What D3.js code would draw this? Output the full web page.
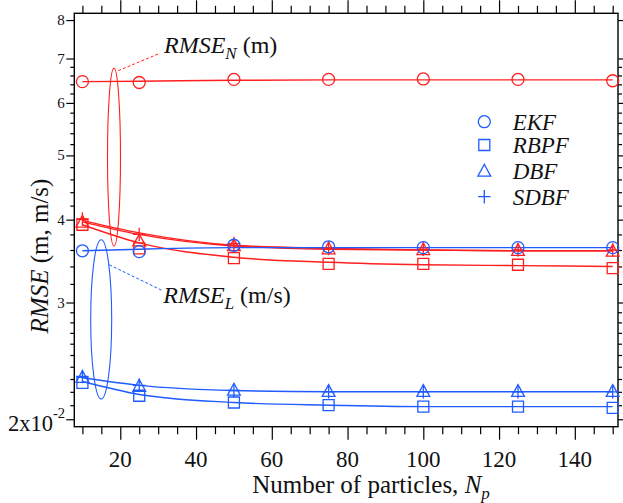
<!DOCTYPE html>
<html>
<head>
<meta charset="utf-8">
<script src="https://cdn.jsdelivr.net/npm/d3@7"></script>
<style>
  html, body { margin: 0; padding: 0; background: #fff; }
  svg { display: block; }
</style>
</head>
<body>
<svg id="chart" width="623" height="503"></svg>
<script>
// ---------- data ----------
const particles = [10, 25, 50, 75, 100, 125, 150];

// RMSE_N (m) — red markers
const ekfN  = [6.46, 6.44, 6.51, 6.51, 6.52, 6.51, 6.48];
const rbpfN = [3.93, 3.62, 3.50, 3.43, 3.43, 3.42, 3.38];
const dbfN  = [3.96, 3.71, 3.65, 3.61, 3.60, 3.59, 3.58];
const sdbfN = [4.01, 3.80, 3.68, 3.62, 3.61, 3.60, 3.60];
// RMSE_N fitted curves
const ekfNFit  = [6.46, 6.47, 6.49, 6.50, 6.50, 6.50, 6.50];
const rbpfNFit = [3.93, 3.69, 3.51, 3.45, 3.42, 3.41, 3.40];
const dbfNFit  = [3.97, 3.80, 3.65, 3.61, 3.60, 3.59, 3.59];
const sdbfNFit = [3.99, 3.82, 3.66, 3.62, 3.60, 3.59, 3.59];

// RMSE_L (m/s) — blue markers
const ekfL  = [3.59, 3.58, 3.66, 3.64, 3.63, 3.63, 3.63];
const rbpfL = [2.27, 2.17, 2.12, 2.10, 2.09, 2.09, 2.08];
const dbfL  = [2.31, 2.24, 2.21, 2.20, 2.20, 2.20, 2.20];
const sdbfL = [2.32, 2.25, 2.21, 2.20, 2.20, 2.20, 2.20];
// RMSE_L fitted curves
const ekfLFit  = [3.59, 3.61, 3.63, 3.63, 3.63, 3.63, 3.63];
const rbpfLFit = [2.28, 2.18, 2.12, 2.10, 2.09, 2.09, 2.09];
const dbfLFit  = [2.31, 2.25, 2.21, 2.20, 2.20, 2.20, 2.20];

// ticks
const xMajorTicks = [20, 40, 60, 80, 100, 120, 140];
const xMinorTicks = d3.range(10, 151, 5).filter(v => v % 20 !== 0);
const yMajorTicks = [2, 3, 4, 5, 6, 7, 8];
const yTickLabels = ["2", "3", "4", "5", "6", "7", "8"];
const yMinorTicks = [2.1, 2.2, 2.3, 2.4, 2.5, 2.6, 2.7, 2.8, 2.9,
                     3.2, 3.4, 3.6, 3.8, 4.2, 4.4, 4.6, 4.8, 5.2, 5.4, 5.6, 5.8,
                     6.2, 6.4, 6.6, 6.8];
const legendNames = ["EKF", "RBPF", "DBF", "SDBF"];

// ---------- setup ----------
const RED = "#ff1f1f", BLUE = "#1f5bff";
const FONT = "Liberation Serif";
const svg = d3.select("#chart");
const L = 74.3, R = 618, T = 13.3, B = 426.7;
const x = d3.scaleLinear().domain([7.86, 151.4]).range([L, R]);
const y = d3.scaleLog().domain([1.949, 8.19]).range([B, T]);

// ---------- axes ----------
function addAxis(axisFn, scale, ticks, size, transform) {
  const g = svg.append("g").attr("transform", transform)
    .call(axisFn(scale).tickValues(ticks).tickSize(size).tickFormat(""));
  g.select(".domain").remove();
  g.selectAll("line").attr("stroke", "#000").attr("stroke-width", 1.2);
  return g;
}
addAxis(d3.axisBottom, x, xMajorTicks, 13, `translate(0,${B})`);
addAxis(d3.axisBottom, x, xMinorTicks, 7.5, `translate(0,${B})`);
addAxis(d3.axisTop, x, xMajorTicks, 13, `translate(0,${T})`);
addAxis(d3.axisTop, x, xMinorTicks, 7.5, `translate(0,${T})`);
addAxis(d3.axisLeft, y, yMajorTicks, 8, `translate(${L},0)`);
addAxis(d3.axisLeft, y, yMinorTicks, 4, `translate(${L},0)`);
addAxis(d3.axisRight, y, yMajorTicks, 8, `translate(${R},0)`);
addAxis(d3.axisRight, y, yMinorTicks, 4, `translate(${R},0)`);

svg.append("rect").attr("x", L).attr("y", T).attr("width", R - L).attr("height", B - T)
  .attr("fill", "none").attr("stroke", "#000").attr("stroke-width", 1.4);

// x tick labels
svg.append("g").selectAll("text").data(xMajorTicks).join("text")
  .attr("x", d => x(d)).attr("y", 467).attr("text-anchor", "middle")
  .attr("font-family", FONT)
  .attr("font-size", 23).attr("fill", "#111").text(d => d);

// y tick labels
svg.append("g").selectAll("text").data(yMajorTicks.slice(1)).join("text")
  .attr("x", L - 9.5).attr("y", d => y(d) + 5).attr("text-anchor", "end")
  .attr("font-family", FONT)
  .attr("font-size", 15).attr("fill", "#111").text((d, i) => yTickLabels[i + 1]);
const lab2 = svg.append("text").attr("x", 8).attr("y", y(2) + 12)
  .attr("font-family", FONT).attr("font-size", 22.5).attr("fill", "#111");
lab2.append("tspan").text(yTickLabels[0] + "x10");
lab2.append("tspan").attr("dy", -13).attr("font-size", 14.5).text("-2");

// axis titles
const xt = svg.append("text").attr("x", 371).attr("y", 493).attr("text-anchor", "middle")
  .attr("font-family", FONT).attr("font-size", 25).attr("fill", "#111");
xt.append("tspan").text("Number of particles, ");
xt.append("tspan").attr("font-style", "italic").text("N");
xt.append("tspan").attr("font-style", "italic").attr("font-size", 17).attr("dy", 6).text("p");

const yt = svg.append("text").attr("transform", "translate(48,256) rotate(-90)")
  .attr("font-family", FONT)
  .attr("text-anchor", "middle").attr("font-size", 25).attr("fill", "#111");
yt.append("tspan").attr("font-style", "italic").text("RMSE");
yt.append("tspan").text(" (m, m/s)");

// ---------- series ----------
const line = d3.line().x((d, i) => x(particles[i])).y(d => y(d)).curve(d3.curveMonotoneX);
function drawLine(vals, color) {
  svg.append("path").datum(vals).attr("d", line).attr("fill", "none")
    .attr("stroke", color).attr("stroke-width", 1.4);
}
function symbolPath(type) {
  if (type === "circle") return d3.symbol(d3.symbolCircle, 113)();
  if (type === "square") return d3.symbol(d3.symbolSquare, 121)();
  if (type === "triangle") return "M0,-7.2L6.4,4.6L-6.4,4.6Z";
  return "M-6.2,0H6.2M0,-6.8V6.8";
}
function drawMarkers(vals, type, color) {
  svg.append("g").selectAll("path").data(vals).join("path")
    .attr("transform", (d, i) => `translate(${x(particles[i])},${y(d)})`)
    .attr("d", symbolPath(type))
    .attr("fill", "none")
    .attr("stroke", color).attr("stroke-width", 1.3);
}

// red (RMSE_N)
drawLine(ekfNFit, RED);
drawLine(rbpfNFit, RED);
drawLine(dbfNFit, RED);
drawLine(sdbfNFit, RED);
// blue (RMSE_L)
drawLine(ekfLFit, BLUE);
drawLine(rbpfLFit, BLUE);
drawLine(dbfLFit, BLUE);

drawMarkers(ekfN, "circle", RED);
drawMarkers(rbpfN, "square", RED);
drawMarkers(dbfN, "triangle", RED);
drawMarkers(sdbfN, "plus", RED);
drawMarkers(ekfL, "circle", BLUE);
drawMarkers(rbpfL, "square", BLUE);
drawMarkers(dbfL, "triangle", BLUE);
drawMarkers(sdbfL, "plus", BLUE);

// ---------- annotations ----------
function ellipse(cxV, topV, botV, rxPx, color) {
  svg.append("ellipse").attr("cx", x(cxV)).attr("cy", (y(topV) + y(botV)) / 2)
    .attr("rx", rxPx).attr("ry", (y(botV) - y(topV)) / 2)
    .attr("fill", "none").attr("stroke", color).attr("stroke-width", 1.1);
}
ellipse(18.34, 6.77, 3.65, 6.5, RED);
ellipse(14.96, 3.73, 2.146, 10.5, BLUE);

svg.append("line").attr("x1", x(19.48)).attr("y1", y(6.71)).attr("x2", x(30.49)).attr("y2", y(7.13))
  .attr("stroke", RED).attr("stroke-width", 1).attr("stroke-dasharray", "3,2");
svg.append("line").attr("x1", x(17.1)).attr("y1", y(3.42)).attr("x2", x(30.94)).attr("y2", y(3.13))
  .attr("stroke", BLUE).attr("stroke-width", 1).attr("stroke-dasharray", "3,2");

function annText(xv, yv, sub, unit) {
  const t = svg.append("text").attr("x", x(xv)).attr("y", y(yv))
    .attr("font-family", FONT).attr("font-size", 24).attr("fill", "#111");
  t.append("tspan").attr("font-style", "italic").text("RMSE");
  t.append("tspan").attr("font-style", "italic").attr("font-size", 17).attr("dy", 6).text(sub);
  t.append("tspan").attr("dy", -6).text(" " + unit);
}
annText(31.55, 7.13, "N", "(m)");
annText(31.36, 2.99, "L", "(m/s)");

// ---------- legend ----------
const legTypes = ["circle", "square", "triangle", "plus"];
const legY = [121.7, 145, 171.5, 196.7];
const lg = svg.append("g");
legendNames.forEach((name, i) => {
  lg.append("path").attr("transform", `translate(484.3,${legY[i]})`)
    .attr("d", symbolPath(legTypes[i])).attr("fill", "none")
    .attr("stroke", BLUE).attr("stroke-width", 1.3);
  lg.append("text").attr("x", 512.7).attr("y", legY[i] + 7.8)
    .attr("font-family", FONT)
    .attr("font-size", 23).attr("font-style", "italic").attr("fill", "#111").text(name);
});
</script>
</body>
</html>
